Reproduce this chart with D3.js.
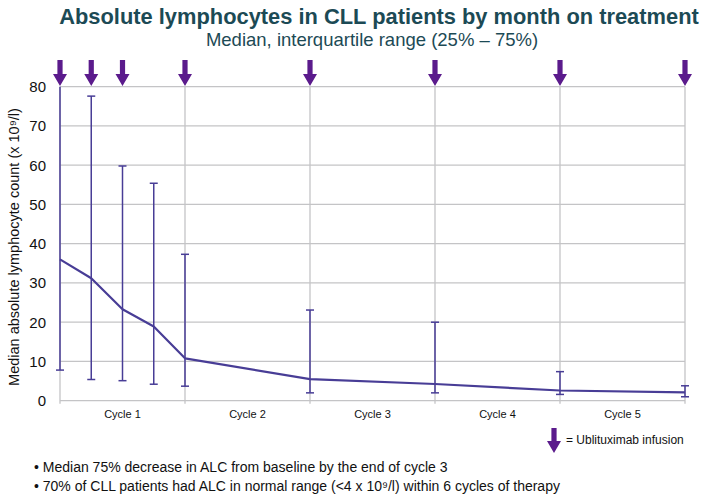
<!DOCTYPE html>
<html><head><meta charset="utf-8">
<script src="https://cdn.jsdelivr.net/npm/d3@7"></script>
<style>body{margin:0;background:#fff}svg{display:block;font-family:"Liberation Sans",Arial,sans-serif}</style>
</head><body><svg id="c" width="709" height="503"></svg>
<script>
// Data (weeks on treatment)
const weeks = [0, 1, 2, 3, 4, 8, 12, 16, 20];
const median = [36.0, 31.2, 23.3, 18.9, 10.8, 5.5, 4.25, 2.6, 2.1];
const q25 = [7.8, 5.4, 5.1, 4.2, 3.7, 2.0, 2.0, 1.6, 1.0];
const q75 = [80, 77.6, 59.8, 55.4, 37.3, 23.1, 20.0, 7.4, 3.8];
const infusionWeeks = [0, 1, 2, 4, 8, 12, 16, 20];
const cycleLabels = ["Cycle 1", "Cycle 2", "Cycle 3", "Cycle 4", "Cycle 5"];
const cycleBounds = [0, 4, 8, 12, 16, 20];
const yTicks = [0, 10, 20, 30, 40, 50, 60, 70, 80];
const bullets = ["• Median 75% decrease in ALC from baseline by the end of cycle 3",
  "• 70% of CLL patients had ALC in normal range (<4 x 10⁹/l) within 6 cycles of therapy"];

const svg = d3.select("#c");
const x = d3.scaleLinear().domain([0, 20]).range([60, 685]);
const y = d3.scaleLinear().domain([0, 80]).range([400.7, 86.7]);
const grid = "#c4c4c6", lineC = "#483d96", arrowC = "#5b1b8c", titleC = "#1c4a55";

// Title (horizontally condensed to fit the reference width)
const tg = svg.append("g");
const tt = tg.append("text").attr("x", 0).attr("y", 0).attr("text-anchor", "middle")
  .attr("font-size", 22.5).attr("font-weight", "bold").attr("fill", titleC)
  .text("Absolute lymphocytes in CLL patients by month on treatment");
const natW = tt.node().getComputedTextLength();
const sx = Math.min(1, 640 / natW);
tg.attr("transform", `translate(379,24) scale(${sx},1)`);

const st = svg.append("g");
const stt = st.append("text").attr("x", 0).attr("y", 0).attr("text-anchor", "middle")
  .attr("font-size", 18.5).attr("fill", titleC)
  .text("Median, interquartile range (25% – 75%)");
const sW = stt.node().getComputedTextLength();
st.attr("transform", `translate(372,46) scale(${Math.min(1, 336 / sW)},1)`);

// Horizontal grid
svg.append("g").selectAll("line").data(yTicks).join("line")
  .attr("x1", x(0)).attr("x2", x(20)).attr("y1", d => y(d)).attr("y2", d => y(d))
  .attr("stroke", grid).attr("stroke-width", 1.3);
// Vertical grid at cycle bounds
svg.append("g").selectAll("line").data(cycleBounds).join("line")
  .attr("x1", d => x(d)).attr("x2", d => x(d)).attr("y1", y(80)).attr("y2", y(0) + 3)
  .attr("stroke", grid).attr("stroke-width", 1.3);

// Y axis labels
const yAxis = d3.axisLeft(y).tickValues(yTicks).tickSize(0).tickPadding(0);
const ga = svg.append("g").attr("transform", "translate(46,0)").call(yAxis);
ga.select(".domain").remove();
ga.selectAll("text").attr("font-size", 15).attr("fill", "#111").attr("font-family", "Liberation Sans, Arial, sans-serif");

// Y axis title
svg.append("text").attr("transform", `translate(19,${247}) rotate(-90)`)
  .attr("text-anchor", "middle").attr("font-size", 14.5).attr("fill", "#111")
  .text("Median absolute lymphocyte count (x 10⁹/l)");

// Cycle labels
svg.append("g").selectAll("text").data(cycleLabels).join("text")
  .attr("x", (d, i) => x((cycleBounds[i] + cycleBounds[i + 1]) / 2))
  .attr("y", 418).attr("text-anchor", "middle").attr("font-size", 11).attr("fill", "#111")
  .text(d => d);

// Error bars
const eb = svg.append("g").attr("stroke", lineC).attr("stroke-width", 1.5);
weeks.forEach((w, i) => {
  eb.append("line").attr("x1", x(w)).attr("x2", x(w)).attr("y1", y(q25[i])).attr("y2", y(q75[i]));
  eb.append("line").attr("x1", x(w) - 4).attr("x2", x(w) + 4).attr("y1", y(q25[i])).attr("y2", y(q25[i]));
  if (q75[i] < 80) eb.append("line").attr("x1", x(w) - 4).attr("x2", x(w) + 4).attr("y1", y(q75[i])).attr("y2", y(q75[i]));
});

// Median line
svg.append("path").datum(weeks.map((w, i) => [w, median[i]]))
  .attr("d", d3.line().x(d => x(d[0])).y(d => y(d[1])))
  .attr("fill", "none").attr("stroke", lineC).attr("stroke-width", 2.2).attr("stroke-linejoin", "round");

// Arrow shape
function arrowPath(cx, top, tip) {
  const hs = tip - 12;
  return `M${cx - 2.6},${top}H${cx + 2.6}V${hs}H${cx + 7}L${cx},${tip}L${cx - 7},${hs}H${cx - 2.6}Z`;
}
svg.append("g").selectAll("path").data(infusionWeeks).join("path")
  .attr("d", d => arrowPath(x(d), 60, 86)).attr("fill", arrowC);

// Legend
svg.append("path").attr("d", arrowPath(554, 428, 453)).attr("fill", arrowC);
svg.append("text").attr("x", 566).attr("y", 444).attr("font-size", 12).attr("fill", "#111")
  .text("= Ublituximab infusion");

// Bullets
svg.append("g").selectAll("text").data(bullets).join("text")
  .attr("x", 34).attr("y", (d, i) => 472 + i * 19).attr("font-size", 14).attr("fill", "#111")
  .text(d => d);
</script></body></html>
